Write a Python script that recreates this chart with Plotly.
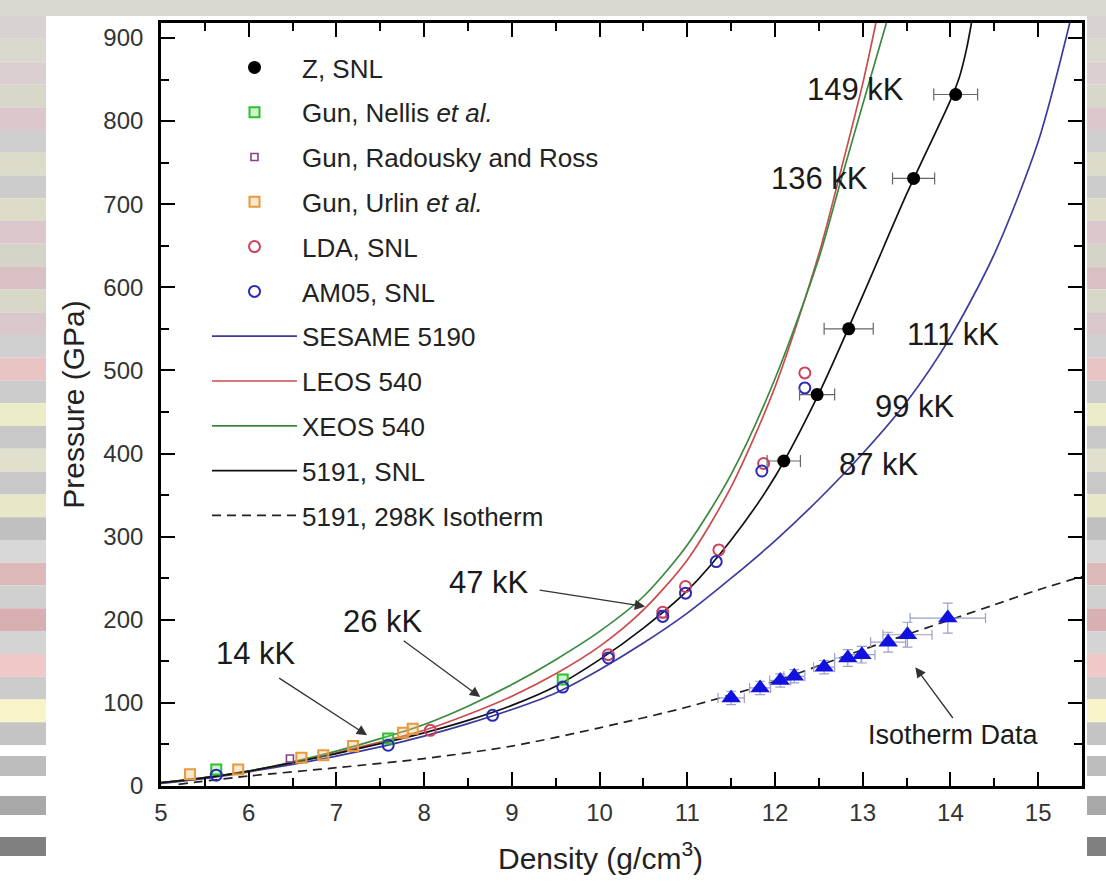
import plotly.graph_objects as go

# ---------------- data ----------------
z_density = [12.10, 12.48, 12.84, 13.58, 14.06]
z_pressure = [391, 471, 550, 731, 832]
z_density_err = [0.19, 0.20, 0.28, 0.24, 0.25]
z_labels = ["87 kK", "99 kK", "111 kK", "136 kK", "149 kK"]
z_label_x = [13.18, 13.60, 14.03, 12.51, 12.92]
z_label_y = [387, 457, 543, 731, 838]

nellis_density = [5.63, 7.59, 9.58]
nellis_pressure = [20, 57, 128]

radousky_density = [6.47, 10.72]
radousky_pressure = [33, 207]

urlin_density = [5.33, 5.88, 6.60, 6.85, 7.19, 7.76, 7.87]
urlin_pressure = [14, 20, 34, 37, 48, 64, 69]

lda_density = [8.07, 10.10, 10.72, 10.98, 11.36, 11.87, 12.34]
lda_pressure = [67, 158, 209, 240, 284, 388, 497]

am05_density = [5.63, 7.59, 8.78, 9.58, 10.10, 10.72, 10.98, 11.33, 11.85, 12.34]
am05_pressure = [13, 49, 85, 119, 154, 204, 232, 270, 379, 479]

iso_density = [11.50, 11.83, 12.06, 12.22, 12.56, 12.83, 12.99, 13.29, 13.51, 13.97]
iso_pressure = [106, 118, 127, 132, 143, 154, 158, 173, 182, 202]
iso_density_err = [0.15, 0.12, 0.12, 0.12, 0.12, 0.15, 0.15, 0.20, 0.28, 0.43]
iso_pressure_err = [8, 8, 8, 8, 8, 10, 10, 12, 15, 18]

sesame_density = [5.0, 5.5, 6.0, 6.5, 7.0, 7.5, 8.0, 8.5, 9.0, 9.5, 10.0, 10.5, 11.0,
                  11.5, 12.0, 12.5, 13.0, 13.5, 14.0, 14.5, 15.0, 15.36]
sesame_pressure = [3, 9, 17, 26, 36, 47, 60, 75, 92, 112, 140, 172, 208,
                   250, 295, 345, 400, 462, 540, 640, 775, 918]

leos_density = [5.0, 5.5, 6.0, 6.5, 7.0, 7.5, 8.0, 8.5, 9.0, 9.5, 10.0, 10.5, 11.0,
                11.5, 12.0, 12.5, 12.75, 13.0, 13.15]
leos_pressure = [4, 10, 18, 28, 40, 53, 67, 86, 108, 135, 168, 212, 272,
                 360, 480, 640, 740, 845, 918]

xeos_density = [5.0, 5.5, 6.0, 6.5, 7.0, 7.5, 8.0, 8.5, 9.0, 9.5, 10.0, 10.5, 11.0,
                11.5, 12.0, 12.5, 12.75, 13.0, 13.27]
xeos_pressure = [4, 10, 18, 29, 42, 57, 74, 96, 122, 152, 186, 228, 290,
                 375, 490, 635, 728, 820, 918]

snl_density = [5.0, 5.5, 6.0, 6.5, 7.0, 7.5, 8.0, 8.5, 9.0, 9.5, 10.0, 10.5, 11.0,
               11.5, 12.0, 12.5, 13.0, 13.5, 14.0, 14.1, 14.18, 14.24]
snl_pressure = [4, 10, 18, 28, 39, 51, 64, 79, 97, 120, 152, 190, 235,
                296, 372, 472, 590, 712, 825, 852, 885, 918]

iso298_density = [5.2, 6.0, 7.0, 8.0, 9.0, 10.0, 11.0, 12.0, 13.0, 14.0, 14.5, 15.0, 15.5]
iso298_pressure = [2, 12, 22, 33, 48, 70, 95, 126, 164, 200, 218, 236, 252]

arrow_labels = ["14 kK", "26 kK", "47 kK", "Isotherm Data"]
arrow_label_x = [6.08, 7.53, 8.74, 14.03]
arrow_label_y = [160, 198, 245, 61]
arrow_tail_x = [6.33, 7.75, 9.30, 14.04]
arrow_tail_y = [131, 176, 236, 80]
arrow_head_x = [7.35, 8.64, 10.52, 13.60]
arrow_head_y = [61, 107, 216, 143]

# ---------------- styling ----------------
FONT = "Liberation Sans, Arial, Helvetica, sans-serif"
C_SESAME = "#3b3b9e"
C_LEOS = "#cc4b4b"
C_XEOS = "#3a8a3e"
C_LDA = "#d2405a"
C_AM05 = "#2a2ab8"
C_NELLIS = "#2fc02f"
C_RAD = "#8a3f8a"
C_URLIN = "#e89a3c"
C_ISO = "#1212e0"

fig = go.Figure()

def add_curve(x, y, name, color, rank, dash="solid"):
    fig.add_trace(go.Scatter(
        x=x, y=y, mode="lines", name=name, legendrank=rank, legendgroup=name,
        line=dict(color=color, width=1.7, dash=dash, shape="spline", smoothing=0.8),
    ))

add_curve(sesame_density, sesame_pressure, "SESAME 5190", C_SESAME, 7)
add_curve(leos_density, leos_pressure, "LEOS 540", C_LEOS, 8)
add_curve(xeos_density, xeos_pressure, "XEOS 540", C_XEOS, 9)
add_curve(snl_density, snl_pressure, "5191, SNL", "#111111", 10)
add_curve(iso298_density, iso298_pressure, "5191, 298K Isotherm", "#222222", 11, dash="9px,6px")

def add_points(x, y, name, color, rank, symbol, size, fill="rgba(0,0,0,0)", width=2):
    fig.add_trace(go.Scatter(
        x=x, y=y, mode="markers", name=name, legendrank=rank, legendgroup=name,
        marker=dict(symbol=symbol, size=size, color=fill,
                    line=dict(color=color, width=width)),
    ))

add_points(urlin_density, urlin_pressure, "Gun, Urlin <i>et al.</i>", C_URLIN, 4, "square", 10,
           fill="rgba(240,190,120,0.35)")
add_points(nellis_density, nellis_pressure, "Gun, Nellis <i>et al.</i>", C_NELLIS, 2, "square", 10,
           fill="rgba(120,220,120,0.35)")
add_points(radousky_density, radousky_pressure, "Gun, Radousky and Ross", C_RAD, 3, "square", 7, width=1.6)
add_points(lda_density, lda_pressure, "LDA, SNL", C_LDA, 5, "circle", 11)
add_points(am05_density, am05_pressure, "AM05, SNL", C_AM05, 6, "circle", 11)

# isotherm data (no legend entry)
fig.add_trace(go.Scatter(
    x=iso_density, y=iso_pressure, mode="markers", showlegend=False,
    marker=dict(symbol="triangle-up", size=17, color=C_ISO, line=dict(width=0)),
    error_x=dict(type="data", array=iso_density_err, color="#9aa0c8", thickness=1.2, width=5),
    error_y=dict(type="data", array=iso_pressure_err, color="#9aa0c8", thickness=1.2, width=5),
))

# Z data
fig.add_trace(go.Scatter(
    x=z_density, y=z_pressure, mode="markers", name="Z, SNL", legendrank=1, legendgroup="Z",
    marker=dict(symbol="circle", size=13, color="#000000"),
    error_x=dict(type="data", array=z_density_err, color="#666666", thickness=1.2, width=6),
))

annotations = []
for t, x, y in zip(z_labels, z_label_x, z_label_y):
    annotations.append(dict(x=x, y=y, xref="x", yref="y", text=t, showarrow=False,
                            font=dict(family=FONT, size=31, color="#1a1a1a")))
for i, t in enumerate(arrow_labels):
    size = 27 if t == "Isotherm Data" else 31
    annotations.append(dict(x=arrow_label_x[i], y=arrow_label_y[i], xref="x", yref="y",
                            text=t, showarrow=False,
                            font=dict(family=FONT, size=size, color="#1a1a1a")))
    annotations.append(dict(x=arrow_head_x[i], y=arrow_head_y[i], xref="x", yref="y",
                            ax=arrow_tail_x[i], ay=arrow_tail_y[i], axref="x", ayref="y",
                            text="", showarrow=True, arrowhead=2, arrowsize=1.6,
                            arrowwidth=1.3, arrowcolor="#333333"))

# ---------- page geometry helpers (pixel -> paper) ----------
L, W, B, H = 161, 921, 786, 763
def px_x(p):
    return (p - L) / W
def px_y(p):
    return (B - p) / H

# x-axis title placed as an annotation (slightly left of the plot centre, as in the reference)
annotations.append(dict(x=px_x(600), y=px_y(856), xref="paper", yref="paper",
                        xanchor="center", yanchor="middle",
                        text="Density (g/cm<sup>3</sup>)", showarrow=False,
                        font=dict(family=FONT, size=30, color="#222222")))

stripe_colors = ["#d9d2d2", "#d8d8cc", "#dccfd2", "#d8d8c8", "#dcc8cc", "#cfcfcf",
                 "#dcdcc8", "#cccccc", "#dcdcc8", "#dcc8cc", "#d4d4c8", "#d8c0c4",
                 "#d8d8c8", "#d8c8cc", "#d0d0d0", "#e8c4c4", "#cccccc", "#ececc8",
                 "#c8c8c8", "#e0e0cc", "#c8c8c8", "#e8e8c8", "#c0c0c0", "#d8d8d8",
                 "#dcb8b8", "#d0d0d0", "#d8b0b4", "#d4d4d4", "#f0c8c8", "#cccccc",
                 "#f8f4c8", "#c4c4c4"]
bottom_bars = [(756, 776, "#bdbdbd"), (796, 815, "#a9a9a9"), (837, 856, "#808080")]

shapes = []
shapes.append(dict(type="rect", xref="paper", yref="paper", x0=px_x(0), x1=px_x(1106),
                   y0=px_y(16), y1=px_y(0), fillcolor="#d9d9d2", line=dict(width=0),
                   layer="below"))
top, bottom = 16, 745
h = (bottom - top) / len(stripe_colors)
for side in [(0, 46), (1087, 1106)]:
    for i, c in enumerate(stripe_colors):
        shapes.append(dict(type="rect", xref="paper", yref="paper",
                           x0=px_x(side[0]), x1=px_x(side[1]),
                           y0=px_y(top + (i + 1) * h), y1=px_y(top + i * h),
                           fillcolor=c, line=dict(width=0), layer="below"))
    for y0, y1, c in bottom_bars:
        shapes.append(dict(type="rect", xref="paper", yref="paper",
                           x0=px_x(side[0]), x1=px_x(side[1]),
                           y0=px_y(y1), y1=px_y(y0), fillcolor=c, line=dict(width=0),
                           layer="below"))

axis_common = dict(
    showline=True, linewidth=2.6, linecolor="#000000", mirror="allticks",
    ticks="inside", ticklen=14, tickwidth=2, tickcolor="#000000",
    showgrid=False, zeroline=False,
    tickfont=dict(family=FONT, size=24, color="#333333"),
)

fig.update_layout(
    width=1106, height=888,
    margin=dict(l=161, r=24, t=23, b=102),
    paper_bgcolor="#ffffff", plot_bgcolor="#ffffff",
    font=dict(family=FONT, color="#222222"),
    xaxis=dict(range=[5, 15.5], dtick=1, tick0=5, ticklabelstandoff=3,
               minor=dict(ticks="inside", dtick=0.5, ticklen=8, tickwidth=2, tickcolor="#000000"),
               **axis_common),
    yaxis=dict(range=[0, 918], dtick=100, tick0=0, ticklabelstandoff=10,
               minor=dict(ticks="inside", dtick=50, ticklen=8, tickwidth=2, tickcolor="#000000"),
               title=dict(text="Pressure (GPa)", font=dict(family=FONT, size=30, color="#222222"),
                          standoff=10),
               **axis_common),
    legend=dict(x=px_x(207), y=px_y(44), xanchor="left", yanchor="top",
                bgcolor="rgba(0,0,0,0)", font=dict(family=FONT, size=26, color="#222222"),
                tracegroupgap=8, itemwidth=85),
    annotations=annotations,
    shapes=shapes,
)

fig.write_html("out.html")
